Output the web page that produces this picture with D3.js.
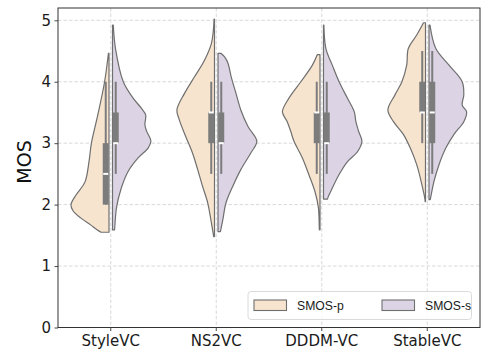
<!DOCTYPE html>
<html>
<head>
<meta charset="utf-8">
<script src="https://cdn.jsdelivr.net/npm/d3@7"></script>
<style>
  html, body { margin: 0; padding: 0; background: #fff; }
  svg { display: block; }
</style>
</head>
<body>
<svg id="chart" width="495" height="357"></svg>
<script>
// ---------------- data ----------------
const categories = ["StyleVC", "NS2VC", "DDDM-VC", "StableVC"];
const seriesNames = ["SMOS-p", "SMOS-s"];
const yTicks = [0, 1, 2, 3, 4, 5];

// density profiles: [MOS, relative density]
const styleVC_p = [[1.55,0.2],[1.59,0.3],[1.67,0.46],[1.78,0.7],[1.9,0.9],[2.0,0.95],[2.16,0.82],[2.37,0.6],[2.7,0.5],[3.0,0.44],[3.46,0.28],[4.0,0.11],[4.46,0.015]];
const styleVC_s = [[1.59,0.05],[1.62,0.055],[1.95,0.1],[2.27,0.22],[2.54,0.39],[2.76,0.64],[2.92,0.89],[3.03,0.96],[3.2,0.85],[3.3,0.81],[3.46,0.83],[3.57,0.72],[3.73,0.52],[4.0,0.27],[4.54,0.075],[4.92,0.02]];
const ns2VC_p = [[1.48,0.02],[1.75,0.09],[2.03,0.17],[2.30,0.3],[2.57,0.42],[2.84,0.55],[3.11,0.72],[3.38,0.88],[3.54,0.94],[3.81,0.75],[4.08,0.5],[4.35,0.25],[4.63,0.075],[5.02,0.01]];
const ns2VC_s = [[1.56,0.06],[1.75,0.12],[2.03,0.2],[2.30,0.37],[2.57,0.57],[2.84,0.82],[3.03,0.97],[3.27,0.75],[3.54,0.57],[3.81,0.45],[4.08,0.33],[4.30,0.25],[4.40,0.17],[4.46,0.08]];
const dddmVC_p = [[1.59,0.015],[1.62,0.018],[1.95,0.04],[2.21,0.125],[2.49,0.28],[2.76,0.44],[3.03,0.65],[3.19,0.73],[3.35,0.82],[3.51,0.94],[3.73,0.78],[4.0,0.48],[4.27,0.19],[4.44,0.07]];
const dddmVC_s = [[2.09,0.1],[2.13,0.12],[2.27,0.22],[2.49,0.39],[2.70,0.6],[2.86,0.85],[3.03,0.96],[3.19,0.88],[3.35,0.81],[3.51,0.77],[3.73,0.6],[4.0,0.39],[4.27,0.22],[4.54,0.06],[4.92,0.01]];
const stableVC_p = [[2.05,0.01],[2.08,0.012],[2.38,0.11],[2.65,0.22],[2.92,0.38],[3.14,0.55],[3.35,0.8],[3.54,0.94],[3.79,0.76],[4.0,0.59],[4.27,0.47],[4.54,0.43],[4.76,0.22],[4.96,0.05]];
const stableVC_s = [[2.08,0.03],[2.11,0.04],[2.38,0.125],[2.65,0.25],[2.92,0.42],[3.14,0.62],[3.35,0.87],[3.51,0.94],[3.62,0.83],[3.79,0.87],[4.0,0.83],[4.27,0.5],[4.54,0.17],[4.92,0.025]];

const densityP = [styleVC_p, ns2VC_p, dddmVC_p, stableVC_p];
const densityS = [styleVC_s, ns2VC_s, dddmVC_s, stableVC_s];

// box statistics per category: [whiskerLow, q1, median, q3, whiskerHigh]
const boxP = [[2.0,2.0,2.5,3.0,4.0],[2.5,3.0,3.5,3.5,4.0],[2.5,3.0,3.5,3.5,4.0],[3.0,3.5,3.5,4.0,4.5]];
const boxS = [[2.5,3.0,3.0,3.5,4.0],[2.5,3.0,3.0,3.5,4.0],[2.5,3.0,3.0,3.5,4.0],[2.5,3.0,3.5,4.0,4.5]];

// ---------------- layout ----------------
const svg = d3.select("#chart");
const margin = {left: 58, right: 480, top: 8, bottom: 327.5};
const colP = "#f6e4ce", colS = "#dcd4e5", edge = "#6f6f6f", boxCol = "#7c7c7c";
const tickFont = "'DejaVu Sans', sans-serif";

const x = d3.scaleBand().domain(categories).range([margin.left, margin.right]).padding(0);
const y = d3.scaleLinear().domain([0, 5.2]).range([margin.bottom, margin.top]);
const w = d3.scaleLinear().domain([0, 1]).range([0, 40]);
const cx = c => x(c) + x.bandwidth() / 2;
const gap = 1.75, boxOff = 5, boxW = 6;

// grid
const grid = svg.append("g");
grid.selectAll("line.h").data(yTicks.filter(t => t > 0)).join("line")
  .attr("x1", margin.left).attr("x2", margin.right)
  .attr("y1", d => y(d)).attr("y2", d => y(d))
  .attr("stroke", "#cfcfcf").attr("stroke-width", 0.8).attr("stroke-dasharray", "3.5,2");
grid.selectAll("line.v").data(categories).join("line")
  .attr("x1", d => cx(d)).attr("x2", d => cx(d))
  .attr("y1", margin.top).attr("y2", margin.bottom)
  .attr("stroke", "#cfcfcf").attr("stroke-width", 0.8).attr("stroke-dasharray", "3.5,2");

// violins
const g = svg.append("g");
categories.forEach((c, i) => {
  const c0 = cx(c);
  const areaL = d3.area().curve(d3.curveCatmullRom.alpha(0.5))
    .y(d => y(d[0])).x0(c0 - gap).x1(d => c0 - gap - w(d[1]));
  const areaR = d3.area().curve(d3.curveCatmullRom.alpha(0.5))
    .y(d => y(d[0])).x0(c0 + gap).x1(d => c0 + gap + w(d[1]));
  g.append("path").attr("d", areaL(densityP[i]))
    .attr("fill", colP).attr("stroke", edge).attr("stroke-width", 1.2).attr("stroke-linejoin", "round");
  g.append("path").attr("d", areaR(densityS[i]))
    .attr("fill", colS).attr("stroke", edge).attr("stroke-width", 1.2).attr("stroke-linejoin", "round");

  [[boxP[i], c0 - boxOff], [boxS[i], c0 + boxOff]].forEach(([b, bx]) => {
    g.append("line").attr("x1", bx).attr("x2", bx)
      .attr("y1", y(b[0])).attr("y2", y(b[4]))
      .attr("stroke", boxCol).attr("stroke-width", 2);
    g.append("rect").attr("x", bx - boxW / 2).attr("width", boxW)
      .attr("y", y(b[3])).attr("height", Math.max(0, y(b[1]) - y(b[3])))
      .attr("fill", boxCol);
    g.append("line").attr("x1", bx - boxW / 2 + 0.5).attr("x2", bx + boxW / 2 - 0.5)
      .attr("y1", y(b[2])).attr("y2", y(b[2]))
      .attr("stroke", "#ffffff").attr("stroke-width", 2);
  });
});

// axes
const yAxis = d3.axisLeft(y).tickValues(yTicks).tickFormat(d3.format("d")).tickSize(3.5).tickPadding(3.5);
const xAxis = d3.axisBottom(x).tickSize(3.5).tickPadding(4);
const ya = svg.append("g").attr("transform", `translate(${margin.left},0)`).call(yAxis);
const xa = svg.append("g").attr("transform", `translate(0,${margin.bottom})`).call(xAxis);
[ya, xa].forEach(a => {
  a.select(".domain").remove();
  a.selectAll(".tick line").attr("stroke", "#333").attr("stroke-width", 0.9);
  a.selectAll(".tick text").attr("font-family", tickFont).attr("font-size", 15).attr("fill", "#1a1a1a");
});

// frame
svg.append("rect").attr("x", margin.left).attr("y", margin.top)
  .attr("width", margin.right - margin.left).attr("height", margin.bottom - margin.top)
  .attr("fill", "none").attr("stroke", "#333").attr("stroke-width", 1);

// y label
svg.append("text").attr("transform", `translate(31,162) rotate(-90)`)
  .attr("text-anchor", "middle").attr("font-family", tickFont).attr("font-size", 19)
  .attr("fill", "#111").text("MOS");

// legend
const lg = svg.append("g");
lg.append("rect").attr("x", 248).attr("y", 291.5).attr("width", 223.5).attr("height", 28)
  .attr("rx", 3).attr("fill", "#ffffff").attr("fill-opacity", 0.82)
  .attr("stroke", "#d6d6d6").attr("stroke-width", 0.9);
const legendX = [254, 382];
seriesNames.forEach((s, i) => {
  lg.append("rect").attr("x", legendX[i]).attr("y", 300).attr("width", 32.5).attr("height", 10.5)
    .attr("fill", i === 0 ? colP : colS).attr("stroke", edge).attr("stroke-width", 1.1);
  lg.append("text").attr("x", legendX[i] + 43).attr("y", 309.5)
    .attr("font-family", "'Liberation Sans', Arial, sans-serif").attr("font-size", 12.2)
    .attr("fill", "#1a1a1a").text(s);
});
</script>
</body>
</html>
